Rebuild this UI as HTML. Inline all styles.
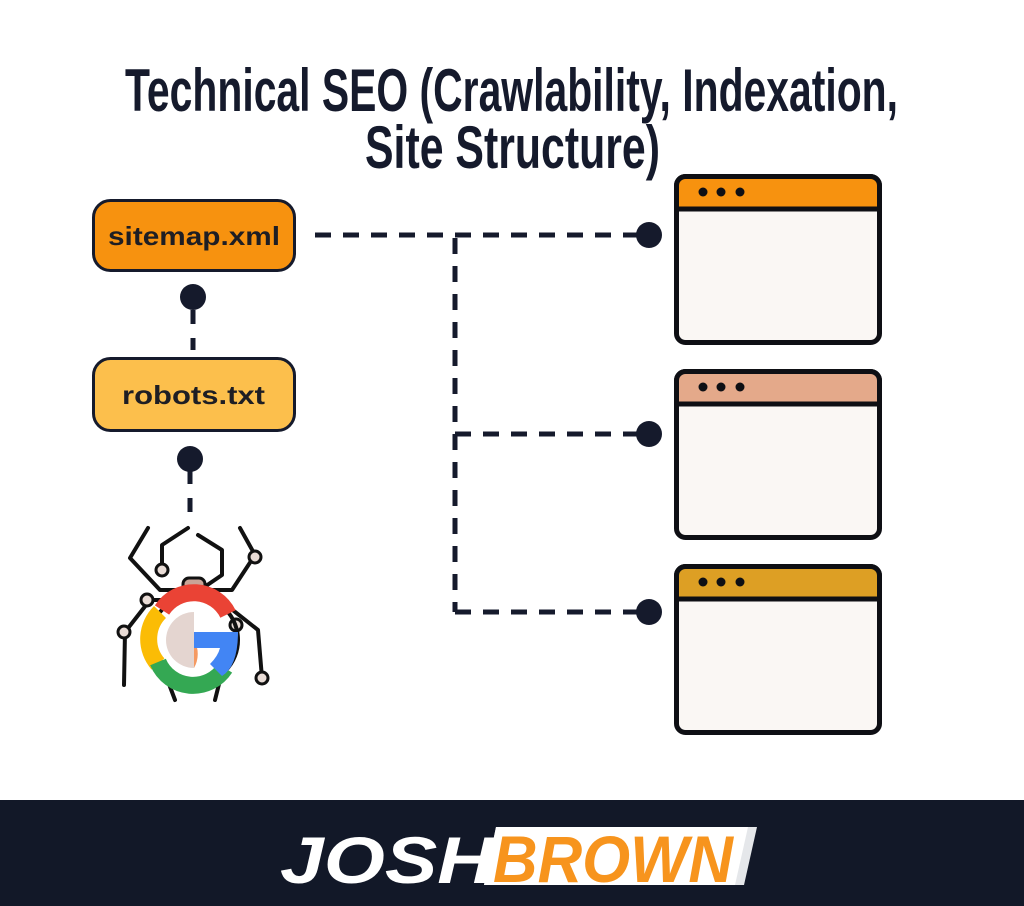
<!DOCTYPE html>
<html><head><meta charset="utf-8"><style>
html,body{margin:0;padding:0;background:#fff;}
svg{display:block;}
</style></head><body>
<svg width="1024" height="906" viewBox="0 0 1024 906" xmlns="http://www.w3.org/2000/svg">
<rect width="1024" height="906" fill="#fff"/>
<g fill="#151a2c" font-family="'Liberation Sans Narrow','Liberation Sans',sans-serif" font-weight="bold" font-size="60">
<text x="125" y="111" textLength="773" lengthAdjust="spacingAndGlyphs">Technical SEO (Crawlability, Indexation,</text>
<text x="365" y="168" textLength="295" lengthAdjust="spacingAndGlyphs">Site Structure)</text>
</g>
<!-- connectors -->
<g stroke="#151a2c" stroke-width="5" fill="none" stroke-dasharray="16 12">
<line x1="315" y1="235" x2="640" y2="235"/>
<line x1="455" y1="238" x2="455" y2="612"/>
<line x1="455" y1="434" x2="640" y2="434"/>
<line x1="455" y1="612" x2="640" y2="612"/>
<line x1="193" y1="310" x2="193" y2="350" stroke-dasharray="14 14"/>
<line x1="190" y1="470" x2="190" y2="512" stroke-dasharray="14 14"/>
</g>
<g fill="#151a2c">
<circle cx="649" cy="235" r="13"/><circle cx="649" cy="434" r="13"/><circle cx="649" cy="612" r="13"/>
<circle cx="193" cy="297" r="13"/><circle cx="190" cy="459" r="13"/>
</g>
<!-- boxes -->
<rect x="93.5" y="200.5" width="201" height="70" rx="17" fill="#f7920f" stroke="#151a2c" stroke-width="3"/>
<rect x="93.5" y="358.5" width="201" height="72" rx="17" fill="#fcbf4c" stroke="#151a2c" stroke-width="3"/>
<g font-family="'Liberation Sans',sans-serif" font-weight="bold" font-size="26" fill="#1e1e24">
<text x="108" y="245" textLength="172" lengthAdjust="spacingAndGlyphs">sitemap.xml</text>
<text x="122" y="404" textLength="143" lengthAdjust="spacingAndGlyphs">robots.txt</text>
</g>
<!-- windows -->
<g stroke="#0e0f14" stroke-width="5">
<rect x="676.5" y="176.5" width="203" height="166" rx="9" fill="#faf7f4"/>
<path d="M676.5 209 V185.5 a9 9 0 0 1 9 -9 H870.5 a9 9 0 0 1 9 9 V209 Z" fill="#f7920f"/>
<rect x="676.5" y="371.5" width="203" height="166" rx="9" fill="#faf7f4"/>
<path d="M676.5 404 V380.5 a9 9 0 0 1 9 -9 H870.5 a9 9 0 0 1 9 9 V404 Z" fill="#e4a98a"/>
<rect x="676.5" y="566.5" width="203" height="166" rx="9" fill="#faf7f4"/>
<path d="M676.5 599 V575.5 a9 9 0 0 1 9 -9 H870.5 a9 9 0 0 1 9 9 V599 Z" fill="#dd9f24"/>
</g>
<g fill="#0e0f14">
<circle cx="703" cy="192" r="4.5"/><circle cx="721" cy="192" r="4.5"/><circle cx="740" cy="192" r="4.5"/>
<circle cx="703" cy="387" r="4.5"/><circle cx="721" cy="387" r="4.5"/><circle cx="740" cy="387" r="4.5"/>
<circle cx="703" cy="582" r="4.5"/><circle cx="721" cy="582" r="4.5"/><circle cx="740" cy="582" r="4.5"/>
</g>
<!-- spider -->
<g stroke="#111" stroke-width="4" fill="none" stroke-linejoin="round" stroke-linecap="round">
<polyline points="148,528 130,558 160,590 185,590"/>
<polyline points="188,528 162,545 162,570"/>
<polyline points="198,535 222,550 222,575 200,590"/>
<polyline points="240,528 255,555 232,590 200,590"/>
<polyline points="150,600 125,632 124,685"/>
<polyline points="175,600 150,600"/>
<polyline points="220,600 258,630 262,678"/>
<polyline points="240,625 235,625"/>
<polyline points="160,660 175,700"/>
<polyline points="225,660 215,700"/>
</g>
<g stroke="#111" stroke-width="3" fill="#e9dcd6">
<circle cx="162" cy="570" r="6"/><circle cx="255" cy="557" r="6"/><circle cx="147" cy="600" r="6"/>
<circle cx="124" cy="632" r="6"/><circle cx="236" cy="625" r="6"/><circle cx="262" cy="678" r="6"/>
<rect x="183" y="578" width="22" height="18" rx="6" fill="#c9a497"/>
</g>
<circle cx="194" cy="640" r="44" fill="none" stroke="#111" stroke-width="4"/>
<g fill="none" stroke-width="17">
<path d="M162 610 A38 38 0 0 1 228 614" stroke="#ea4335"/>
<path d="M160 612 A38 38 0 0 0 158 664" stroke="#fbbc05"/>
<path d="M158 662 A38 38 0 0 0 225 668" stroke="#34a853"/>
</g>
<path d="M194 640 A28 28 0 0 1 194 668 Z" fill="#f59a62"/>
<path d="M194 612 A28 28 0 0 0 194 668 Z" fill="#e4d5d0"/>
<path d="M194 632 H238 Q238 666 222 676 L210 664 Q218 656 220 648 H194 Z" fill="#4285f4"/>
<!-- footer -->
<rect x="0" y="800" width="1024" height="106" fill="#121828"/>
<polygon points="496,827 757,827 744,885 484,885" fill="#e5e7ea"/>
<polygon points="496,827 748,827 735,885 484,885" fill="#fff"/>
<g font-family="'Liberation Sans',sans-serif" font-weight="bold" font-style="italic" font-size="66">
<text x="280" y="883" fill="#fff" textLength="214" lengthAdjust="spacingAndGlyphs">JOSH</text>
<text x="493" y="882" fill="#f7941d" textLength="240" lengthAdjust="spacingAndGlyphs">BROWN</text>
</g>
</svg>
</body></html>
